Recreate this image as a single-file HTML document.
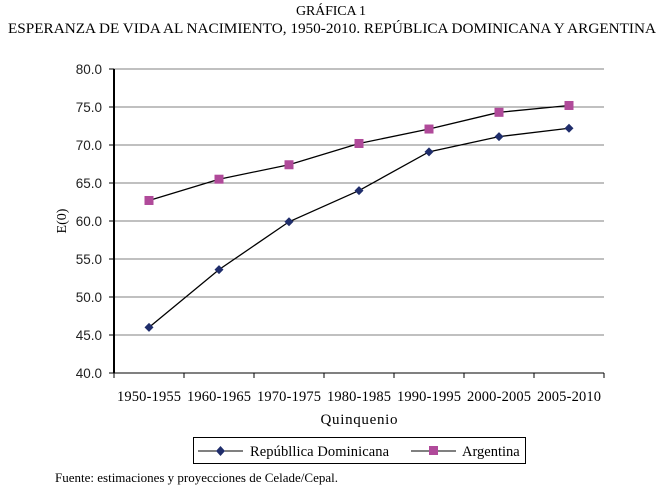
<!DOCTYPE html>
<html><head><meta charset="utf-8"><style>
body{margin:0;background:#fff;width:661px;height:488px;overflow:hidden}
svg{display:block}
.serif{font-family:"Liberation Serif",serif}
.sans{font-family:"Liberation Sans",sans-serif}
</style></head><body>
<svg id="chart" width="661" height="488">
<text class="serif" x="331" y="15" text-anchor="middle" font-size="14" textLength="70">GRÁFICA 1</text>
<text class="serif" x="332" y="33" text-anchor="middle" font-size="14.5" textLength="648" lengthAdjust="spacingAndGlyphs">ESPERANZA DE VIDA AL NACIMIENTO, 1950-2010. REPÚBLICA DOMINICANA Y ARGENTINA</text>
<g id="grid"></g><g id="yticks"></g><g id="xticks"></g><g id="series"></g>
<text class="serif" transform="translate(66,221) rotate(-90)" text-anchor="middle" font-size="14">E(0)</text>
<text class="serif" x="359" y="424" text-anchor="middle" font-size="15" textLength="77">Quinquenio</text>
<g>
<rect x="193.5" y="437.5" width="332" height="26" fill="#fff" stroke="#000"/>
<g>
<line x1="198" y1="451" x2="243" y2="451" stroke="#000"/>
<path d="M220.5 446 L225 451 L220.5 456 L216 451 Z" fill="#1f2d6b"/>
<text class="serif" x="250" y="456" font-size="14.5" textLength="139">Repúbllica Dominicana</text></g>
<g>
<line x1="411" y1="451" x2="456" y2="451" stroke="#000"/>
<rect x="429" y="446" width="9" height="9" fill="#b04a9a"/>
<text class="serif" x="462" y="456" font-size="14.5">Argentina</text></g>
</g>
<text class="serif" x="55" y="482" font-size="13" textLength="283">Fuente: estimaciones y proyecciones de Celade/Cepal.</text>
</svg>
<script>
const categories=["1950-1955","1960-1965","1970-1975","1980-1985","1990-1995","2000-2005","2005-2010"];
const dominicana=[46.0,53.6,59.9,64.0,69.1,71.1,72.2];
const argentina=[62.7,65.5,67.4,70.2,72.1,74.3,75.2];
const yTicks=[40,45,50,55,60,65,70,75,80];
const NS="http://www.w3.org/2000/svg";
const L=114,R=604,T=69,B=373;
const x=i=>L+(R-L)/categories.length*(i+0.5);
const y=v=>B-(v-40)/40*(B-T);
function mk(t,a,p){const e=document.createElementNS(NS,t);for(const k in a)e.setAttribute(k,a[k]);p.appendChild(e);return e;}
const g=document.getElementById('grid'),yt=document.getElementById('yticks'),xt=document.getElementById('xticks'),s=document.getElementById('series');
yTicks.forEach(v=>{
 const ln=mk('line',{x1:L,x2:R,y1:y(v),y2:y(v),stroke:v==40?'#000':'#808080','stroke-width':1},g);
 
 
 mk('line',{x1:L-5,x2:L,y1:y(v),y2:y(v),stroke:'#000'},g);
 const t=mk('text',{x:L-12,y:y(v)+5,'text-anchor':'end','font-size':13.5,class:'sans',fill:'#222'},yt);
 t.textContent=v.toFixed(1);
 
 
});
mk('line',{x1:L,x2:L,y1:T,y2:B,stroke:'#000','stroke-width':2},g);
categories.forEach((c,i)=>{
 mk('line',{x1:L+(R-L)/7*i,x2:L+(R-L)/7*i,y1:B,y2:B+5,stroke:'#000'},g);
 const t=mk('text',{x:x(i),y:B+28,'text-anchor':'middle','font-size':14.5,class:'serif',textLength:64},xt);
 t.textContent=c;
 
 
});
mk('line',{x1:R,x2:R,y1:B,y2:B+5,stroke:'#000'},g);
function line(d,name){
 const p=mk('polyline',{points:d.map((v,i)=>x(i)+','+y(v)).join(' '),fill:'none',stroke:'#000','stroke-width':1.3},s);
 
 
}
line(dominicana,'dominicana');line(argentina,'argentina');
dominicana.forEach((v,i)=>{
 const m=mk('path',{d:`M${x(i)} ${y(v)-4.5}L${x(i)+4.5} ${y(v)}L${x(i)} ${y(v)+4.5}L${x(i)-4.5} ${y(v)}Z`,fill:'#1f2d6b'},s);
 
 
});
argentina.forEach((v,i)=>{
 const m=mk('rect',{x:x(i)-4.5,y:y(v)-4.5,width:9,height:9,fill:'#b04a9a'},s);
 
 
});
</script>
</body></html>
